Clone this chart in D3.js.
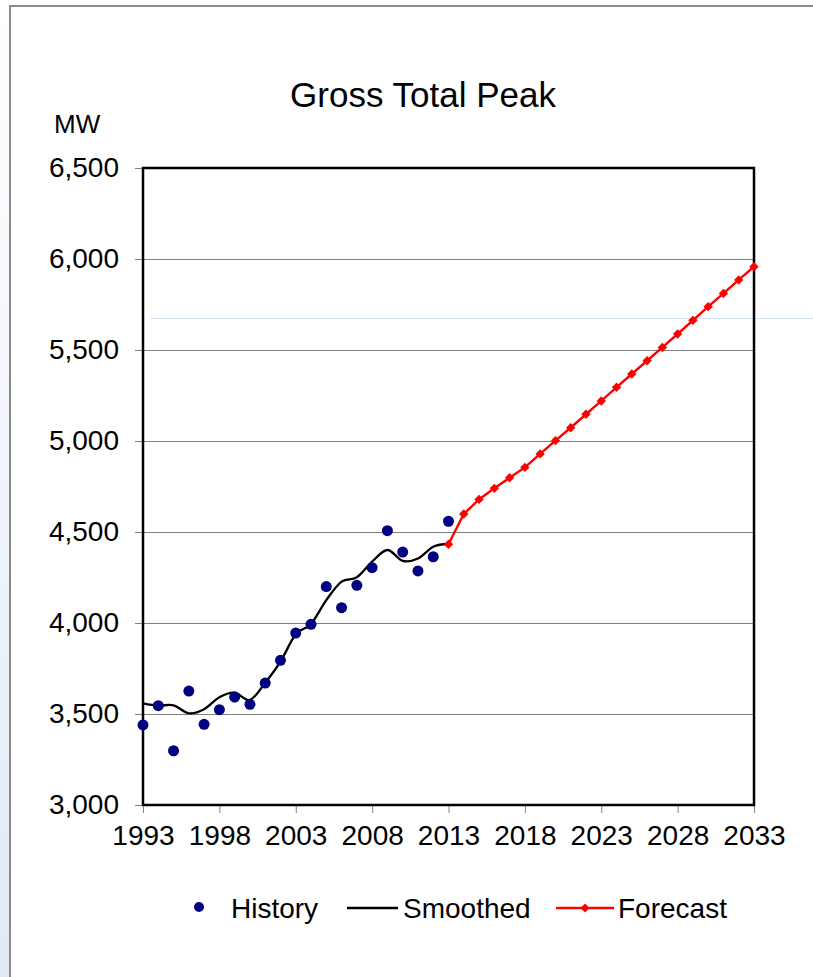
<!DOCTYPE html>
<html><head><meta charset="utf-8">
<script src="https://cdn.jsdelivr.net/npm/d3@7"></script>
<style>html,body{margin:0;padding:0;background:#fff;}svg{display:block;font-family:"Liberation Sans",Arial,sans-serif;}</style>
</head><body>
<svg id="c" width="813" height="977"></svg>
<script>
const histYears = d3.range(1993, 2014);
const history = [3440,3546,3298,3626,3443,3524,3593,3553,3670,3795,3945,3993,4200,4084,4207,4304,4507,4390,4286,4364,4559];
const smoothed = [3559,3546,3548,3504,3526,3592,3617,3577,3672,3788,3938,3995,4126,4227,4251,4337,4401,4341,4354,4419,4434];
const fcYears = d3.range(2013, 2034);
const forecast = [4433,4599,4679,4740,4798,4855,4929,5002,5073,5147,5220,5295,5368,5441,5514,5588,5663,5738,5811,5885,5958];
const yTicks = [3000,3500,4000,4500,5000,5500,6000,6500];
const xTicks = [1993,1998,2003,2008,2013,2018,2023,2028,2033];

const svg = d3.select("#c");
const defs = svg.append("defs");
const lg = defs.append("linearGradient").attr("id","lb").attr("x1",0).attr("y1",0).attr("x2",0).attr("y2",1);
lg.append("stop").attr("offset","0%").attr("stop-color","#ffffff");
lg.append("stop").attr("offset","100%").attr("stop-color","#e2e9f5");
svg.append("rect").attr("x",0).attr("y",0).attr("width",10).attr("height",977).attr("fill","url(#lb)");
svg.append("line").attr("x1",10).attr("x2",10).attr("y1",5).attr("y2",977).attr("stroke","#8a8a8a").attr("stroke-width",2);
svg.append("line").attr("x1",9).attr("x2",813).attr("y1",6).attr("y2",6).attr("stroke","#8a8a8a").attr("stroke-width",2);
svg.append("line").attr("x1",150).attr("x2",813).attr("y1",318.5).attr("y2",318.5).attr("stroke","#d3e2f3").attr("stroke-width",1);

const L=143, R=754, T=168, B=805;
const x = d3.scaleLinear().domain([1993,2033]).range([L,R]);
const y = d3.scaleLinear().domain([3000,6500]).range([B,T]);

// gridlines
svg.append("g").selectAll("line").data(yTicks.filter(d=>d>3000 && d<6500)).join("line")
  .attr("x1",L).attr("x2",R).attr("y1",d=>y(d)+0.5).attr("y2",d=>y(d)+0.5)
  .attr("stroke","#808080").attr("stroke-width",1);

// y axis
const yAxis = d3.axisLeft(y).tickValues(yTicks).tickFormat(d3.format(",")).tickSize(8).tickPadding(16);
const gy = svg.append("g").attr("transform",`translate(${L},0)`).call(yAxis);
gy.select(".domain").remove();
gy.selectAll(".tick line").attr("stroke","#808080");
gy.selectAll("text").attr("font-size",28).attr("fill","#000").attr("font-family","Liberation Sans, Arial, sans-serif");

// x axis
const xAxis = d3.axisBottom(x).tickValues(xTicks).tickFormat(d3.format("d")).tickSize(8).tickPadding(12);
const gx = svg.append("g").attr("transform",`translate(0,${B})`).call(xAxis);
gx.select(".domain").remove();
gx.selectAll(".tick line").attr("stroke","#808080");
gx.selectAll("text").attr("font-size",28).attr("fill","#000").attr("font-family","Liberation Sans, Arial, sans-serif");

// frame
svg.append("rect").attr("x",L).attr("y",T).attr("width",R-L).attr("height",B-T)
  .attr("fill","none").attr("stroke","#000").attr("stroke-width",2.5);

// smoothed
const sm = histYears.map((d,i)=>[d,smoothed[i]]);
svg.append("path").datum(sm)
  .attr("d", d3.line().x(d=>x(d[0])).y(d=>y(d[1])).curve(d3.curveCardinal.tension(0)))
  .attr("fill","none").attr("stroke","#000").attr("stroke-width",2.3);

// forecast
const fc = fcYears.map((d,i)=>[d,forecast[i]]);
svg.append("path").datum(fc)
  .attr("d", d3.line().x(d=>x(d[0])).y(d=>y(d[1])))
  .attr("fill","none").attr("stroke","#ff0000").attr("stroke-width",2.4);
svg.append("g").selectAll("path").data(fc).join("path")
  .attr("d", d3.symbol(d3.symbolSquare, 44)())
  .attr("transform", d=>`translate(${x(d[0])},${y(d[1])}) rotate(45)`)
  .attr("fill","#ff0000");

// history
svg.append("g").selectAll("circle").data(histYears.map((d,i)=>[d,history[i]])).join("circle")
  .attr("cx",d=>x(d[0])).attr("cy",d=>y(d[1])).attr("r",5.5).attr("fill","#000080");

// titles
svg.append("text").attr("x",423).attr("y",107).attr("text-anchor","middle").attr("font-size",35).text("Gross Total Peak");
svg.append("text").attr("x",54).attr("y",133).attr("font-size",26).text("MW");

// legend
const ly = 908;
svg.append("circle").attr("cx",199).attr("cy",ly-1).attr("r",5).attr("fill","#000080");
svg.append("text").attr("x",231).attr("y",ly+10).attr("font-size",28).text("History");
svg.append("line").attr("x1",347).attr("x2",398).attr("y1",ly).attr("y2",ly).attr("stroke","#000").attr("stroke-width",2.3);
svg.append("text").attr("x",403).attr("y",ly+10).attr("font-size",28).text("Smoothed");
svg.append("line").attr("x1",556).attr("x2",614).attr("y1",ly).attr("y2",ly).attr("stroke","#ff0000").attr("stroke-width",2.4);
svg.append("path").attr("d",d3.symbol(d3.symbolSquare,40)()).attr("transform",`translate(585,${ly}) rotate(45)`).attr("fill","#ff0000");
svg.append("text").attr("x",618).attr("y",ly+10).attr("font-size",28).text("Forecast");
</script>
</body></html>
